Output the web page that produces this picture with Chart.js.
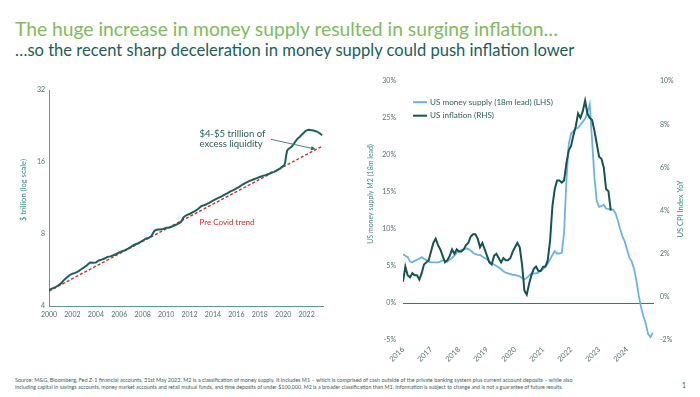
<!DOCTYPE html>
<html>
<head>
<meta charset="utf-8">
<script src="https://cdn.jsdelivr.net/npm/chart.js@4.4.0/dist/chart.umd.min.js"></script>
<style>
    html, body { margin: 0; padding: 0; background: #fff; }
    #page { position: relative; width: 700px; height: 397px; overflow: hidden; font-family: Lato, 'Open Sans', sans-serif; }
    .txt { position: absolute; left: 15px; white-space: nowrap; line-height: 1; }
    #title { color: #7dbb5d; }
    #subtitle { color: #1b5d59; }
    .note { color: #3c605d; }
    #pageNo { left: 682px; color: #3c605d; }
    #leftChart { position: absolute; left: 0; top: 80px; }
    #rightChart { position: absolute; left: 355px; top: 70px; }
</style>
</head>
<body>
<div id="page">
    <div class="txt" id="title">The huge increase in money supply resulted in surging inflation…</div>
    <div class="txt" id="subtitle">…so the recent sharp deceleration in money supply could push inflation lower</div>
    <canvas id="leftChart" width="340" height="250"></canvas>
    <canvas id="rightChart" width="345" height="300"></canvas>
    <div class="txt note" id="note1">Source: M&amp;G, Bloomberg, Fed Z-1 financial accounts, 31st May 2023. M2 is a classification of money supply. It includes M1 – which is comprised of cash outside of the private banking system plus current account deposits – while also</div>
    <div class="txt note" id="note2">including capital in savings accounts, money market accounts and retail mutual funds, and time deposits of under $100,000. M2 is a broader classification than M1. Information is subject to change and is not a guarantee of future results.</div>
    <div class="txt" id="pageNo">1</div>
</div>
<script>
// ---- Left chart: US M2 level, $ trillion (log scale)
const levelDates = [
    2000.00, 2000.25, 2000.50, 2000.75, 2001.00, 2001.25, 2001.50, 2001.75,
    2002.00, 2002.25, 2002.50, 2002.75, 2003.00, 2003.25, 2003.50, 2003.75,
    2004.00, 2004.25, 2004.50, 2004.75, 2005.00, 2005.25, 2005.50, 2005.75,
    2006.00, 2006.25, 2006.50, 2006.75, 2007.00, 2007.25, 2007.50, 2007.75,
    2008.00, 2008.25, 2008.50, 2008.75, 2009.00, 2009.25, 2009.50, 2009.75,
    2010.00, 2010.25, 2010.50, 2010.75, 2011.00, 2011.25, 2011.50, 2011.75,
    2012.00, 2012.25, 2012.50, 2012.75, 2013.00, 2013.25, 2013.50, 2013.75,
    2014.00, 2014.25, 2014.50, 2014.75, 2015.00, 2015.25, 2015.50, 2015.75,
    2016.00, 2016.25, 2016.50, 2016.75, 2017.00, 2017.25, 2017.50, 2017.75,
    2018.00, 2018.25, 2018.50, 2018.75, 2019.00, 2019.25, 2019.50, 2019.75,
    2020.00, 2020.08, 2020.17, 2020.25, 2020.33, 2020.42, 2020.58, 2020.75, 2020.92,
    2021.17, 2021.42, 2021.67, 2021.92, 2022.17, 2022.42, 2022.67, 2022.92,
    2023.17, 2023.33
];
const levelValues = [
    4.66, 4.73, 4.78, 4.86, 4.96, 5.12, 5.25, 5.38,
    5.46, 5.50, 5.58, 5.70, 5.80, 5.92, 6.08, 6.06,
    6.08, 6.20, 6.25, 6.32, 6.42, 6.45, 6.52, 6.60,
    6.70, 6.78, 6.85, 6.95, 7.07, 7.20, 7.28, 7.38,
    7.50, 7.65, 7.70, 7.85, 8.25, 8.35, 8.35, 8.40,
    8.49, 8.50, 8.60, 8.70, 8.82, 8.95, 9.40, 9.60,
    9.70, 9.85, 10.00, 10.20, 10.46, 10.55, 10.70, 10.85,
    11.04, 11.20, 11.35, 11.50, 11.68, 11.85, 12.05, 12.20,
    12.42, 12.60, 12.85, 13.05, 13.24, 13.40, 13.55, 13.70,
    13.85, 14.00, 14.10, 14.25, 14.47, 14.55, 14.80, 15.05,
    15.41, 15.45, 15.95, 17.00, 17.80, 18.10, 18.30, 18.60, 19.10,
    19.90, 20.40, 21.00, 21.60, 21.80, 21.70, 21.60, 21.40,
    21.00, 20.70
];
const trendDates = [2000, 2023.4];
const trendValues = [4.62, 18.7];
const levelTicks = [4, 8, 16, 32];

// ---- Right chart: monthly, end-of-month dates
const cpiStart = 2016;          // Dec 2015
const cpiValues = [
    0.7,
    1.4, 1.0, 0.9, 1.1, 1.0, 1.0, 0.8, 1.1, 1.5, 1.6, 1.7, 2.1,
    2.5, 2.7, 2.4, 2.2, 1.9, 1.6, 1.7, 1.9, 2.2, 2.0, 2.2, 2.1,
    2.1, 2.2, 2.4, 2.5, 2.8, 2.9, 2.9, 2.7, 2.3, 2.5, 2.2, 1.9,
    1.6, 1.5, 1.9, 2.0, 1.8, 1.6, 1.8, 1.7, 1.7, 1.8, 2.1, 2.3,
    2.5, 2.3, 1.5, 0.3, 0.1, 0.6, 1.0, 1.3, 1.4, 1.2, 1.2, 1.4,
    1.4, 1.7, 2.6, 4.2, 5.0, 5.4, 5.4, 5.3, 5.4, 6.2, 6.8, 7.0,
    7.5, 7.9, 8.5, 8.3, 8.6, 9.1, 8.5, 8.3, 8.2, 7.7, 7.1, 6.5,
    6.4, 6.0, 5.0, 4.9, 4.0
];
const m2Start = 2016;           // M2 YoY, shifted forward 18 months
const m2Growth = [
    6.6, 6.4, 6.2, 5.6, 5.5, 5.7, 5.85, 6.0, 6.2, 6.0, 5.8, 5.6,
    5.5, 5.5, 5.5, 5.5, 5.6, 5.8, 5.7, 5.6, 5.9, 6.1, 6.4, 6.8,
    7.0, 7.2, 7.3, 7.4, 7.3, 7.1, 6.8, 6.6, 6.5, 6.5, 6.3, 6.1,
    5.9, 5.6, 5.4, 5.2, 5.0, 4.8, 4.6, 4.3, 4.1, 4.0, 3.9, 3.8,
    3.8, 3.7, 3.6, 3.4, 3.2, 3.4, 3.7, 4.0, 4.0, 4.0, 4.1, 4.4,
    4.6, 5.0, 5.3, 5.9, 6.5, 7.0, 6.7, 6.7, 6.8, 9.5, 16.5, 21.5,
    22.9, 23.3, 23.6, 23.7, 24.1, 24.5, 24.9, 25.8, 26.9, 22.0, 17.0, 13.8,
    13.0, 13.1, 13.3, 12.8, 12.7, 12.7, 12.6, 12.2, 11.2, 10.0, 9.0, 8.3,
    7.2, 6.1, 5.6, 4.6, 3.0, 1.0, -0.6, -1.8, -2.8, -4.2, -4.6, -4.0
];
const leftTicks = [-5, 0, 5, 10, 15, 20, 25, 30];
const rightTicks = [-2, 0, 2, 4, 6, 8, 10];

const FONT = 'Lato';
const TICK_COLOR = '#55706d';
const TITLE_COLOR = '#3a8a80';

function fitFont(ctx, text, width, weight) {
    ctx.font = `${weight || 'normal'} 10px ${FONT}`;
    return 10 * width / ctx.measureText(text).width;
}

function placeText(id, baseline, width) {
    const el = document.getElementById(id);
    el.style.fontSize = '20px';
    const w = el.getBoundingClientRect().width;
    const size = 20 * width / w;
    el.style.fontSize = size + 'px';
    el.style.top = (baseline - 0.887 * size) + 'px';
}

// Rotated axis titles drawn on the canvas (reading bottom to top)
const sideTitles = {
    id: 'sideTitles',
    afterDraw(chart, args, opts) {
        const ctx = chart.ctx;
        (opts.items || []).forEach(item => {
            const size = fitFont(ctx, item.text, item.length);
            ctx.save();
            ctx.translate(item.x, item.y);
            ctx.rotate(-Math.PI / 2);
            ctx.font = `${size}px ${FONT}`;
            ctx.fillStyle = TITLE_COLOR;
            ctx.textAlign = 'center';
            ctx.textBaseline = 'middle';
            ctx.fillText(item.text, 0, 0);
            ctx.restore();
        });
    }
};

// Left chart notes: excess liquidity arrow and trend label
const liquidityNote = {
    id: 'liquidityNote',
    afterDatasetsDraw(chart) {
        const { ctx, scales: { x, y } } = chart;
        ctx.save();

        const lines = ['$4-$5 trillion of', 'excess liquidity'];
        const size = fitFont(ctx, lines[0], 66);
        ctx.font = `${size}px ${FONT}`;
        ctx.fillStyle = '#23605c';
        ctx.textBaseline = 'alphabetic';
        ctx.fillText(lines[0], x.getPixelForValue(2012.85), y.getPixelForValue(20.45));
        ctx.fillText(lines[1], x.getPixelForValue(2012.85), y.getPixelForValue(18.55));

        // arrow pointing at the trend line
        const x0 = x.getPixelForValue(2018.96), y0 = y.getPixelForValue(19.9);
        const x1 = x.getPixelForValue(2022.77), y1 = y.getPixelForValue(18.1);
        const ang = Math.atan2(y1 - y0, x1 - x0);
        ctx.strokeStyle = '#4a7f7b';
        ctx.fillStyle = '#23605c';
        ctx.lineWidth = 1;
        ctx.beginPath();
        ctx.moveTo(x0, y0);
        ctx.lineTo(x1 - 4 * Math.cos(ang), y1 - 4 * Math.sin(ang));
        ctx.stroke();
        ctx.beginPath();
        ctx.moveTo(x1, y1);
        ctx.lineTo(x1 - 5 * Math.cos(ang - 0.45), y1 - 5 * Math.sin(ang - 0.45));
        ctx.lineTo(x1 - 5 * Math.cos(ang + 0.45), y1 - 5 * Math.sin(ang + 0.45));
        ctx.closePath();
        ctx.fill();

        const trendLabel = 'Pre Covid trend';
        const s2 = fitFont(ctx, trendLabel, 55);
        ctx.font = `${s2}px ${FONT}`;
        ctx.fillStyle = '#c0302c';
        ctx.fillText(trendLabel, x.getPixelForValue(2012.85), y.getPixelForValue(8.7));
        ctx.restore();
    }
};

// Legend drawn inside the plot area, top left
const insideLegend = {
    id: 'insideLegend',
    afterDraw(chart) {
        const { ctx, chartArea } = chart;
        const items = [chart.data.datasets[1], chart.data.datasets[0]];
        const size = fitFont(ctx, items[0].label, 123);
        ctx.save();
        items.forEach((ds, i) => {
            const yy = chartArea.top + 21 + i * 13.5;
            ctx.strokeStyle = ds.borderColor;
            ctx.lineWidth = 2;
            ctx.beginPath();
            ctx.moveTo(chartArea.left + 10, yy);
            ctx.lineTo(chartArea.left + 24, yy);
            ctx.stroke();
            ctx.font = `${size}px ${FONT}`;
            ctx.fillStyle = '#2f5f5b';
            ctx.textBaseline = 'middle';
            ctx.fillText(ds.label, chartArea.left + 27, yy);
        });
        ctx.restore();
    }
};

function tickFont() {
    return { family: FONT, size: 7 };
}

function drawLeftChart() {
    const ctx = document.getElementById('leftChart');
    new Chart(ctx, {
        type: 'line',
        data: {
            datasets: [{
                label: 'US M2',
                data: levelDates.map((d, i) => ({ x: d, y: levelValues[i] })),
                borderColor: '#1d5f5b',
                borderWidth: 2,
                pointRadius: 0,
                tension: 0
            }, {
                label: 'Pre Covid trend',
                data: trendDates.map((d, i) => ({ x: d, y: trendValues[i] })),
                borderColor: '#c9302c',
                borderWidth: 1.4,
                borderDash: [3, 2],
                pointRadius: 0
            }]
        },
        options: {
            responsive: false,
            animation: false,
            layout: { padding: { top: 10, right: 17, left: 0, bottom: 0 } },
            plugins: {
                legend: { display: false },
                tooltip: { enabled: false },
                sideTitles: { items: [{ text: '$ trillion (log scale)', x: 24, y: 110, length: 62 }] }
            },
            scales: {
                x: {
                    type: 'linear',
                    min: 2000,
                    max: 2023.4,
                    ticks: {
                        stepSize: 2, includeBounds: false, autoSkip: false, maxRotation: 0,
                        padding: 5, color: TICK_COLOR, font: tickFont(),
                        callback: v => String(v)
                    },
                    grid: { display: false, drawTicks: false, tickLength: 0 },
                    border: { display: true, color: '#6a9390', width: 1 },
                    afterFit(s) { s.height = 24; }
                },
                y: {
                    type: 'logarithmic',
                    min: 4,
                    max: 32,
                    afterBuildTicks(s) { s.ticks = levelTicks.map(v => ({ value: v })); },
                    ticks: { padding: 4, color: TICK_COLOR, font: tickFont(), callback: v => String(v) },
                    grid: { display: false, drawTicks: false, tickLength: 0 },
                    border: { display: true, color: '#6a9390', width: 1 },
                    afterFit(s) { s.width = 49; }
                }
            }
        },
        plugins: [sideTitles, liquidityNote]
    });
}

function drawRightChart() {
    const ctx = document.getElementById('rightChart');
    new Chart(ctx, {
        type: 'line',
        data: {
            datasets: [{
                label: 'US inflation (RHS)',
                data: cpiValues.map((v, i) => ({ x: cpiStart + i / 12, y: v })),
                yAxisID: 'y1',
                borderColor: '#17534f',
                borderWidth: 2,
                pointRadius: 0,
                tension: 0,
                order: 0
            }, {
                label: 'US money supply (18m lead) (LHS)',
                data: m2Growth.map((v, i) => ({ x: m2Start + i / 12, y: v })),
                yAxisID: 'y',
                borderColor: '#6db2e0',
                borderWidth: 1.8,
                pointRadius: 0,
                tension: 0,
                order: 1
            }]
        },
        options: {
            responsive: false,
            animation: false,
            layout: { padding: { top: 11, right: 0, left: 0, bottom: 0 } },
            plugins: {
                legend: { display: false },
                tooltip: { enabled: false },
                sideTitles: {
                    items: [
                        { text: 'US money supply M2 (18m lead)', x: 16, y: 124, length: 100 },
                        { text: 'US CPI Index YoY', x: 326, y: 139, length: 57 }
                    ]
                }
            },
            scales: {
                x: {
                    type: 'linear',
                    min: 2016,
                    max: 2024.96,
                    ticks: {
                        stepSize: 1, includeBounds: false, autoSkip: false,
                        minRotation: 45, maxRotation: 45, padding: 5,
                        color: TICK_COLOR, font: { family: FONT, size: 7.5 },
                        callback: v => String(v)
                    },
                    grid: { display: false, drawTicks: false, tickLength: 0 },
                    border: { display: false },
                    afterFit(s) { s.height = 30; }
                },
                y: {
                    position: 'left',
                    min: -5,
                    max: 30,
                    afterBuildTicks(s) { s.ticks = leftTicks.map(v => ({ value: v })); },
                    ticks: { padding: 7, color: TICK_COLOR, font: tickFont(), callback: v => v + '%' },
                    grid: {
                        drawTicks: false, tickLength: 0, lineWidth: 1,
                        color: c => (c.tick && c.tick.value === 0 ? '#3d726e' : 'rgba(0,0,0,0)')
                    },
                    border: { display: false },
                    afterFit(s) { s.width = 48; }
                },
                y1: {
                    position: 'right',
                    min: -2,
                    max: 10,
                    afterBuildTicks(s) { s.ticks = rightTicks.map(v => ({ value: v })); },
                    ticks: { padding: 6, color: TICK_COLOR, font: tickFont(), callback: v => v + '%' },
                    grid: { display: false, drawTicks: false, tickLength: 0 },
                    border: { display: false },
                    afterFit(s) { s.width = 46; }
                }
            }
        },
        plugins: [sideTitles, insideLegend]
    });
}

document.addEventListener('DOMContentLoaded', () => {
    placeText('title', 36, 543);
    placeText('subtitle', 56.5, 560);
    placeText('note1', 383, 559);
    placeText('note2', 389.5, 550);
    placeText('pageNo', 388, 4);
    drawLeftChart();
    drawRightChart();
});
</script>
</body>
</html>
